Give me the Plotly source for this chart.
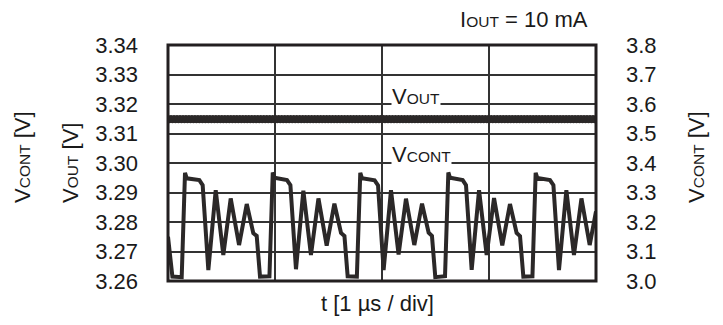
import numpy as np
import plotly.graph_objects as go

# ---- data ----
# VCONT waveform (right axis), time in µs (1 µs / div)
t_cont = [0.000, 0.041,
          0.128, 0.159, 0.175, 0.293, 0.324, 0.377, 0.446, 0.517, 0.586, 0.664, 0.736, 0.797, 0.829, 0.860,
          0.948, 0.979, 0.994, 1.112, 1.144, 1.196, 1.265, 1.336, 1.406, 1.483, 1.555, 1.617, 1.649, 1.679,
          1.765, 1.797, 1.813, 1.931, 1.963, 2.015, 2.084, 2.155, 2.224, 2.302, 2.374, 2.436, 2.467, 2.498,
          2.589, 2.620, 2.636, 2.754, 2.785, 2.838, 2.907, 2.978, 3.047, 3.124, 3.196, 3.258, 3.290, 3.321,
          3.406, 3.436, 3.452, 3.570, 3.602, 3.654, 3.723, 3.794, 3.864, 3.941, 4.000]
v_cont = [3.150, 3.015,
          3.013, 3.367, 3.348, 3.342, 3.325, 3.037, 3.308, 3.088, 3.280, 3.122, 3.261, 3.162, 3.153, 3.015,
          3.016, 3.368, 3.350, 3.342, 3.325, 3.040, 3.306, 3.088, 3.280, 3.120, 3.262, 3.163, 3.153, 3.016,
          3.015, 3.367, 3.348, 3.341, 3.324, 3.037, 3.308, 3.090, 3.279, 3.122, 3.262, 3.164, 3.153, 3.013,
          3.016, 3.368, 3.350, 3.342, 3.325, 3.038, 3.308, 3.088, 3.281, 3.121, 3.261, 3.163, 3.152, 3.015,
          3.016, 3.367, 3.349, 3.342, 3.325, 3.037, 3.308, 3.088, 3.280, 3.122, 3.236]

# VOUT (left axis): ~3.315 V with a small ripple
v_out = [3.3154, 3.3143] * 143 + [3.3154]
t_out = np.linspace(0, 4, len(v_out))

left_ticks = [3.26, 3.27, 3.28, 3.29, 3.30, 3.31, 3.32, 3.33, 3.34]
right_ticks = [3.0, 3.1, 3.2, 3.3, 3.4, 3.5, 3.6, 3.7, 3.8]

FONT = "Liberation Sans, Arial, sans-serif"
INK = "#1a1a1a"
LINE = "#2b2828"
FS = 22

fig = go.Figure()
fig.add_trace(go.Scatter(x=t_out, y=v_out, mode="lines+markers",
                         line=dict(color=LINE, width=3.5),
                         marker=dict(color=LINE, size=5),
                         yaxis="y", showlegend=False))
fig.add_trace(go.Scatter(x=t_cont, y=v_cont, mode="lines",
                         line=dict(color=LINE, width=4), yaxis="y2", showlegend=False))

fig.update_layout(
    width=715, height=317,
    margin=dict(l=160, r=127, t=37, b=44),
    paper_bgcolor="white", plot_bgcolor="white",
    font=dict(family=FONT, size=FS, color=INK),
    xaxis=dict(range=[0, 4], dtick=1, showticklabels=False, showgrid=True,
               gridcolor="#333333", gridwidth=1.6, zeroline=False, ticks=""),
    yaxis=dict(range=[3.26, 3.34], tickvals=left_ticks, tickformat=".2f",
               showgrid=True, gridcolor="#333333", gridwidth=1.6, zeroline=False,
               ticks="", ticklabelstandoff=29, tickfont=dict(size=FS, color=INK)),
    yaxis2=dict(range=[3.0, 3.8], tickvals=right_ticks, tickformat=".1f",
                overlaying="y", side="right", showgrid=False, zeroline=False,
                ticks="", ticklabelstandoff=29, tickfont=dict(size=FS, color=INK)),
)

# plot frame
fig.add_shape(type="rect", xref="paper", yref="paper", x0=0, y0=0, x1=1, y1=1,
              line=dict(color="#231f20", width=3), layer="above")

small = "<span style='font-size:15.5px'>{}</span>"

ann = [
    # inline labels
    dict(x=0.521, y=0.783, text="V" + small.format("OUT"), xanchor="left", yanchor="middle",
         bgcolor="white", borderpad=0),
    dict(x=0.521, y=0.537, text="V" + small.format("CONT"), xanchor="left", yanchor="middle",
         bgcolor="white", borderpad=0),
    # top note
    dict(x=(458 - 168) / 428, y=1 + (45 - 19) / 236, text="I" + small.format("OUT") + " = 10 mA",
         xanchor="left", yanchor="middle"),
    # x title
    dict(x=(377 - 168) / 428, y=-(303 - 281) / 236, text="t [1 µs / div]",
         xanchor="center", yanchor="middle"),
    # left titles
    dict(x=-(168 - 22) / 428, y=1 - (157 - 45) / 236, text="V" + small.format("CONT") + " [V]",
         textangle=-90, xanchor="center", yanchor="middle"),
    dict(x=-(168 - 70) / 428, y=1 - (163 - 45) / 236, text="V" + small.format("OUT") + " [V]",
         textangle=-90, xanchor="center", yanchor="middle"),
    # right title
    dict(x=(696 - 168) / 428, y=1 - (157 - 45) / 236, text="V" + small.format("CONT") + " [V]",
         textangle=-90, xanchor="center", yanchor="middle"),
]
for a in ann:
    a.update(xref="paper", yref="paper", showarrow=False,
             font=dict(family=FONT, size=FS, color=INK))
    fig.add_annotation(**a)

fig.write_html("out.html")
